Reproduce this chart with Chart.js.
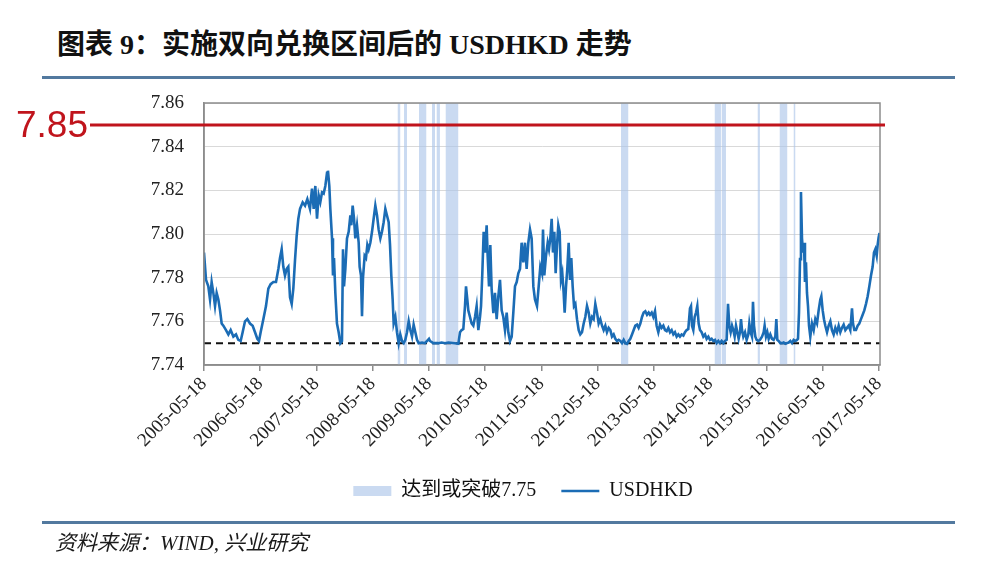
<!DOCTYPE html>
<html lang="zh-CN">
<head>
<meta charset="utf-8">
<title>USDHKD</title>
<script src="https://cdn.jsdelivr.net/npm/chart.js@4.4.1/dist/chart.umd.min.js"></script>
<style>
  html, body { margin: 0; padding: 0; background: #fff; }
  body { width: 990px; height: 586px; position: relative; overflow: hidden; }
  #chart { position: absolute; left: 0; top: 0; }
  .rule { position: absolute; left: 42px; width: 913px; height: 3px; background: #52799f; }
  #title { position: absolute; left: 57px; top: 28px; white-space: nowrap; color: #111;
    font: bold 28px/34px "Liberation Serif", "Noto Sans CJK SC", serif; }
  #source { position: absolute; left: 55px; top: 530px; white-space: nowrap; color: #1a1a1a;
    font: italic 21px/26px "Liberation Serif", "Noto Sans CJK SC", serif; }
</style>
</head>
<body>
<div id="title">图表 9：实施双向兑换区间后的 USDHKD 走势</div>
<div class="rule" style="top:76px"></div>
<canvas id="chart" width="990" height="586"></canvas>
<div class="rule" style="top:521px"></div>
<div id="source">资料来源：WIND, 兴业研究</div>
<script>
// x axis tick labels (one per year)
const xLabels = ['2005-05-18','2006-05-18','2007-05-18','2008-05-18','2009-05-18','2010-05-18',
  '2011-05-18','2012-05-18','2013-05-18','2014-05-18','2015-05-18','2016-05-18','2017-05-18']

// USDHKD, dates as decimal years
const dates = [
  // 2005-2007
  2005.375,2005.411,2005.452,2005.482,2005.511,2005.541,2005.571,2005.600,2005.630,2005.660,
  2005.689,2005.719,2005.766,2005.808,2005.849,2005.897,2005.944,2005.985,2006.027,2006.062,
  2006.104,2006.145,2006.193,2006.240,2006.282,2006.323,2006.353,2006.382,2006.430,2006.477,
  2006.519,2006.560,2006.608,2006.655,2006.697,2006.726,2006.756,2006.785,2006.815,2006.845,
  2006.874,2006.904,2006.934,2006.963,2006.993,2007.022,2007.052,2007.082,2007.129,2007.171,
  2007.212,2007.259,
  // 2007-2009
  2007.295,2007.325,2007.354,2007.384,2007.414,2007.443,2007.473,2007.502,2007.532,2007.562,
  2007.579,2007.603,2007.621,2007.651,2007.668,2007.686,2007.710,2007.739,2007.769,2007.799,
  2007.828,2007.846,2007.864,2007.888,2007.917,2007.947,2007.977,2007.994,2008.018,2008.042,
  2008.065,2008.095,2008.125,2008.142,2008.166,2008.184,2008.202,2008.231,2008.255,2008.279,
  2008.302,2008.332,2008.362,2008.391,2008.421,2008.451,2008.480,2008.510,2008.539,2008.569,
  2008.599,2008.628,2008.658,2008.682,2008.705,2008.729,2008.747,2008.777,2008.806,2008.836,
  2008.865,2008.895,2008.925,2008.954,2008.984,2009.014,2009.043,2009.073,2009.102,2009.132,
  2009.162,2009.191,2009.251,
  // 2009-2011
  2009.304,2009.375,2009.393,2009.452,2009.541,2009.600,2009.660,2009.719,2009.837,2009.897,
  2009.926,2009.956,2009.985,2010.015,2010.033,2010.056,2010.074,2010.104,2010.133,2010.163,
  2010.193,2010.222,2010.252,2010.282,2010.300,2010.323,2010.347,2010.371,2010.400,2010.418,
  2010.442,2010.465,2010.489,2010.519,2010.548,2010.578,2010.608,2010.637,2010.667,2010.696,
  2010.726,2010.756,2010.785,2010.815,2010.845,2010.874,2010.904,2010.934,2010.963,2010.993,
  2011.022,2011.052,2011.082,2011.111,2011.141,2011.171,2011.200,2011.230,2011.259,
  // 2011-2013
  2011.295,2011.325,2011.354,2011.384,2011.402,2011.425,2011.455,2011.485,2011.508,2011.532,
  2011.556,2011.579,2011.603,2011.627,2011.651,2011.674,2011.698,2011.722,2011.745,2011.769,
  2011.787,2011.811,2011.834,2011.858,2011.882,2011.905,2011.929,2011.953,2011.977,2012.006,
  2012.036,2012.065,2012.095,2012.125,2012.154,2012.184,2012.214,2012.243,2012.273,2012.302,
  2012.332,2012.362,2012.391,2012.421,2012.451,2012.480,2012.510,2012.539,2012.569,2012.599,
  2012.628,2012.658,2012.688,2012.717,2012.747,2012.777,2012.806,2012.836,2012.865,2012.895,
  2012.925,2012.954,2012.984,2013.014,2013.043,2013.073,2013.102,2013.132,2013.162,2013.191,
  2013.221,2013.251,2013.280,
  // 2013-2015
  2013.304,2013.334,2013.363,2013.393,2013.422,2013.452,2013.482,2013.511,2013.541,2013.571,
  2013.600,2013.630,2013.660,2013.689,2013.719,2013.748,2013.778,2013.808,2013.837,2013.867,
  2013.897,2013.926,2013.956,2013.985,2014.015,2014.033,2014.051,2014.074,2014.098,2014.122,
  2014.145,2014.169,2014.193,2014.222,2014.252,2014.282,2014.311,2014.341,2014.371,2014.400,
  2014.430,2014.459,2014.489,2014.519,2014.548,2014.578,2014.608,2014.637,2014.667,2014.691,
  2014.714,2014.738,2014.762,2014.785,2014.809,2014.833,2014.857,2014.880,2014.904,2014.922,
  2014.940,2014.963,2014.993,2015.022,2015.052,2015.070,2015.093,2015.117,2015.135,2015.153,
  2015.177,2015.200,2015.230,2015.259,
  // 2015-2017
  2015.295,2015.325,2015.342,2015.366,2015.390,2015.414,2015.443,2015.473,2015.502,2015.532,
  2015.550,2015.568,2015.591,2015.621,2015.651,2015.680,2015.710,2015.739,2015.769,2015.799,
  2015.828,2015.858,2015.888,2015.917,2015.935,2015.953,2015.971,2015.988,2016.006,2016.024,
  2016.042,2016.059,2016.077,2016.095,2016.113,2016.131,2016.154,2016.184,2016.214,2016.243,
  2016.273,2016.302,2016.332,2016.350,2016.374,2016.397,2016.421,2016.451,2016.480,2016.510,
  2016.539,2016.569,2016.599,2016.628,2016.658,2016.688,2016.717,2016.747,2016.777,2016.806,
  2016.836,2016.865,2016.895,2016.913,2016.937,2016.966,2016.996,2017.025,2017.055,2017.085,
  2017.114,2017.144,2017.174,2017.203,2017.233,2017.262,2017.286,2017.310,2017.334,2017.351,
  2017.369,2017.385
]
const rates = [
  // 2005-2007
  7.7915,7.779,7.776,7.770,7.778,7.773,7.767,7.773,7.770,7.765,
  7.759,7.758,7.756,7.754,7.756,7.753,7.754,7.7515,7.751,7.755,
  7.760,7.761,7.759,7.758,7.755,7.752,7.751,7.755,7.761,7.767,
  7.775,7.777,7.778,7.778,7.784,7.789,7.793,7.785,7.781,7.784,
  7.785,7.771,7.768,7.775,7.788,7.799,7.807,7.8115,7.8145,7.813,
  7.816,7.8115,
  // 2007-2009
  7.8208,7.8115,7.822,7.807,7.8177,7.8146,7.819,7.8185,7.822,7.828,
  7.829,7.822,7.8115,7.798,7.781,7.789,7.773,7.759,7.755,7.750,
  7.751,7.793,7.776,7.784,7.798,7.801,7.8085,7.804,7.813,7.807,
  7.798,7.804,7.796,7.785,7.781,7.7623,7.780,7.790,7.789,7.795,
  7.793,7.796,7.801,7.807,7.813,7.8085,7.802,7.798,7.801,7.8054,
  7.8115,7.8085,7.8054,7.795,7.781,7.770,7.759,7.762,7.755,7.750,
  7.754,7.751,7.750,7.7515,7.755,7.760,7.756,7.753,7.7585,7.755,
  7.7515,7.750,7.7503,
  // 2009-2011
  7.750,7.752,7.751,7.750,7.750,7.7503,7.750,7.7503,7.750,7.7497,
  7.755,7.756,7.7565,7.767,7.776,7.770,7.765,7.762,7.759,7.758,
  7.762,7.767,7.756,7.762,7.767,7.782,7.801,7.7915,7.804,7.790,
  7.776,7.795,7.7746,7.7638,7.773,7.761,7.7715,7.779,7.765,7.762,
  7.756,7.764,7.755,7.751,7.753,7.764,7.776,7.778,7.782,7.784,
  7.796,7.787,7.796,7.784,7.796,7.802,7.798,7.776,7.770,
  // 2011-2013
  7.767,7.776,7.785,7.782,7.802,7.781,7.790,7.796,7.793,7.798,
  7.807,7.7915,7.801,7.782,7.795,7.804,7.801,7.779,7.782,7.773,
  7.764,7.776,7.784,7.796,7.779,7.789,7.776,7.767,7.768,7.761,
  7.756,7.754,7.755,7.759,7.762,7.767,7.764,7.759,7.762,7.761,
  7.768,7.764,7.759,7.761,7.758,7.756,7.758,7.755,7.757,7.756,
  7.753,7.754,7.752,7.751,7.7515,7.751,7.750,7.7515,7.750,7.7497,
  7.751,7.752,7.754,7.756,7.758,7.7585,7.757,7.759,7.762,7.764,
  7.7646,7.763,7.764,
  // 2013-2015
  7.763,7.764,7.762,7.7646,7.758,7.755,7.7585,7.757,7.758,7.756,
  7.7555,7.757,7.755,7.756,7.754,7.755,7.753,7.754,7.753,7.754,
  7.7535,7.755,7.756,7.7565,7.766,7.767,7.758,7.756,7.762,7.764,
  7.767,7.759,7.756,7.755,7.753,7.754,7.752,7.753,7.7515,7.752,
  7.751,7.7515,7.750,7.751,7.750,7.751,7.750,7.751,7.7515,7.768,
  7.758,7.755,7.758,7.756,7.753,7.758,7.755,7.752,7.755,7.761,
  7.756,7.753,7.755,7.7515,7.754,7.759,7.755,7.753,7.769,7.758,
  7.753,7.7515,7.751,7.7515,
  // 2015-2017
  7.753,7.755,7.758,7.753,7.755,7.752,7.754,7.752,7.7515,7.753,
  7.761,7.7515,7.751,7.750,7.750,7.7503,7.7497,7.750,7.7503,7.751,
  7.750,7.7515,7.751,7.7515,7.752,7.764,7.7885,7.8192,7.798,7.7915,
  7.796,7.778,7.787,7.773,7.767,7.758,7.753,7.759,7.756,7.761,
  7.759,7.765,7.770,7.7715,7.765,7.761,7.758,7.755,7.758,7.760,
  7.756,7.754,7.757,7.755,7.758,7.755,7.757,7.7585,7.756,7.757,
  7.758,7.756,7.766,7.759,7.756,7.756,7.758,7.759,7.761,7.763,
  7.765,7.768,7.7715,7.776,7.781,7.785,7.7915,7.793,7.790,7.795,
  7.7985,7.8005
]

// periods where USDHKD reached / broke 7.75
const bandStart = [2008.815,2008.931,2009.197,2009.428,2009.508,2009.668,2012.788,2014.451,2014.575,2015.215,2015.606,2015.855]
const bandEnd   = [2008.868,2008.984,2009.331,2009.482,2009.570,2009.899,2012.922,2014.566,2014.655,2015.259,2015.748,2015.891]

const pegLow = 7.75
const pegHigh = 7.85
const yMin = 7.74, yMax = 7.86
const xMin = 2005.375, xMax = 2017.393

if (dates.length != rates.length) console.log('length mismatch', dates.length, rates.length)

const lineData = dates.map((d, i) => ({x: d, y: rates[i]}))
let bandData = []
bandStart.forEach((s, i) => {
  bandData.push({x: s, y: yMax}, {x: bandEnd[i], y: yMax}, {x: bandEnd[i], y: null})
})

const serif = '"Liberation Serif", "Noto Sans CJK SC", serif'

// frame round the plot + the red 7.85 line drawn over it
const decor = {
  id: 'decor',
  afterLayout(chart) {
    // move the legend a little to the right, under the middle of the figure
    chart.legend.left += 33
    chart.legend.right += 33
  },
  afterDatasetsDraw(chart) {
    const {ctx, chartArea: a, scales} = chart
    ctx.save()
    ctx.strokeStyle = '#8c8c8c'
    ctx.lineWidth = 1.5
    ctx.strokeRect(a.left, a.top, a.right - a.left, a.bottom - a.top)
    const ry = Math.round(scales.y.getPixelForValue(pegHigh))
    ctx.strokeStyle = '#c0141c'
    ctx.lineWidth = 3
    ctx.beginPath()
    ctx.moveTo(90, ry)
    ctx.lineTo(a.right + 5, ry)
    ctx.stroke()
    ctx.fillStyle = '#c0141c'
    ctx.font = '37px "Liberation Sans", Arial, sans-serif'
    ctx.textBaseline = 'middle'
    ctx.fillText(pegHigh.toFixed(2), 16, ry + 2)
    ctx.restore()
  }
}

new Chart(document.getElementById('chart'), {
  type: 'line',
  data: {
    datasets: [
      {
        label: '达到或突破7.75',
        data: bandData,
        order: 2,
        borderWidth: 0,
        backgroundColor: 'rgba(170,195,232,0.62)',
        fill: 'start',
        pointRadius: 0,
        pointStyle: 'rect'
      },
      {
        label: 'USDHKD',
        data: lineData,
        order: 0,
        borderColor: '#1b6cb5',
        borderWidth: 2.6,
        pointRadius: 0,
        pointStyle: 'line',
        tension: 0,
        fill: false
      },
      {
        label: 'peg',
        data: [{x: xMin, y: pegLow}, {x: xMax, y: pegLow}],
        order: 1,
        borderColor: '#111',
        borderWidth: 2,
        borderDash: [7, 5],
        pointRadius: 0,
        fill: false
      }
    ]
  },
  options: {
    responsive: false,
    animation: false,
    events: [],
    layout: {padding: {left: 100, right: 110, top: 103, bottom: 75}},
    scales: {
      x: {
        type: 'linear',
        min: xMin,
        max: xMax,
        afterBuildTicks: s => { s.ticks = xLabels.map(l => ({value: parseInt(l) + 0.375})) },
        afterFit: s => { s.height = 91 },
        grid: {drawOnChartArea: false, drawTicks: true, tickLength: 6, color: '#8c8c8c', lineWidth: 1.5},
        border: {display: true, color: '#8c8c8c', width: 1.5},
        ticks: {
          autoSkip: false,
          minRotation: 45,
          maxRotation: 45,
          padding: 2,
          color: '#222',
          font: {family: serif, size: 19},
          callback: (v, i) => xLabels[i]
        }
      },
      y: {
        min: yMin,
        max: yMax,
        afterFit: s => { s.width = 104 },
        grid: {color: '#d9d9d9', lineWidth: 1, drawTicks: false},
        border: {display: true, color: '#8c8c8c', width: 1.5},
        ticks: {
          stepSize: 0.02,
          padding: 20,
          color: '#222',
          font: {family: serif, size: 19},
          callback: v => v.toFixed(2)
        }
      }
    },
    plugins: {
      tooltip: {enabled: false},
      legend: {
        position: 'bottom',
        labels: {
          usePointStyle: true,
          pointStyleWidth: 38,
          boxHeight: 10,
          padding: 25,
          color: '#111',
          font: {family: serif, size: 20},
          filter: item => item.datasetIndex != 2,
          sort: (a, b) => a.datasetIndex - b.datasetIndex
        }
      }
    }
  },
  plugins: [decor]
})
</script>
</body>
</html>
